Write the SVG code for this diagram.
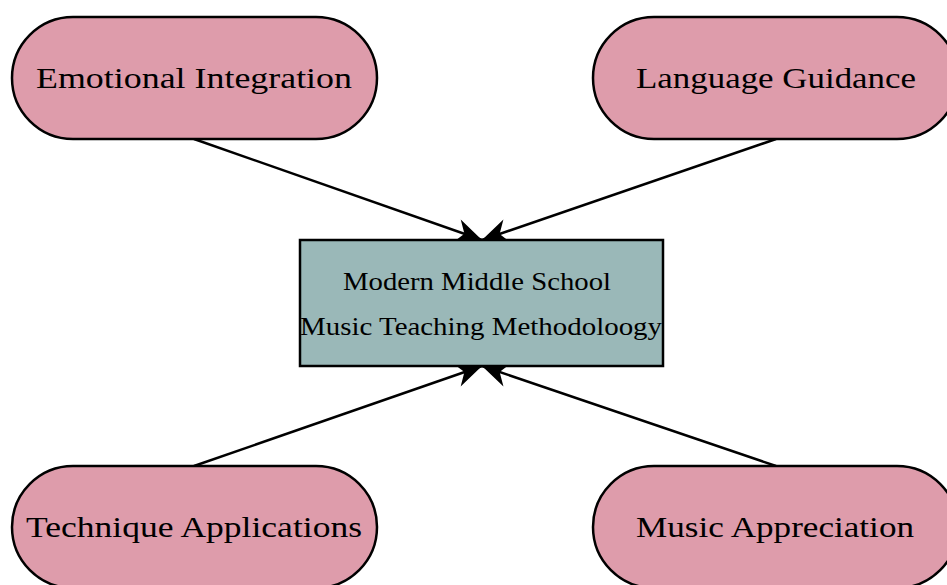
<svg xmlns="http://www.w3.org/2000/svg" width="947" height="585" viewBox="0 0 947 585">
<defs>
<marker id="stealth" markerUnits="userSpaceOnUse" markerWidth="30" markerHeight="30" viewBox="-27 -14 29 28" refX="0" refY="0" orient="auto">
<path d="M0,0 L-26,-12 L-18,0 L-26,12 Z" fill="#000"/>
</marker>
<style>
.pill{fill:#de9cab;stroke:#000;stroke-width:2.5}
.box{fill:#9ab8b8;stroke:#000;stroke-width:2.5}
.lbl{font-family:"Liberation Serif","DejaVu Serif",serif;font-size:30px;fill:#000;text-anchor:middle}
.clbl{font-family:"Liberation Serif","DejaVu Serif",serif;font-size:26px;fill:#000;text-anchor:middle}
.edge{stroke:#000;stroke-width:2.5;fill:none;marker-end:url(#stealth)}
</style>
</defs>
<g id="connectors">
<line class="edge" x1="194" y1="139" x2="482" y2="240"/>
<line class="edge" x1="776" y1="139" x2="482" y2="240"/>
<line class="edge" x1="194" y1="466" x2="482" y2="366"/>
<line class="edge" x1="776" y1="466" x2="482" y2="366"/>
</g>
<g id="center">
<rect class="box" x="300" y="240" width="363" height="126"/>
<text class="clbl" x="477" y="290" textLength="268" lengthAdjust="spacingAndGlyphs">Modern Middle School</text>
<text class="clbl" x="481" y="335" textLength="362" lengthAdjust="spacingAndGlyphs">Music Teaching Methodoloogy</text>
</g>
<g id="emotional">
<rect class="pill" x="12" y="17" width="365" height="122" rx="61" ry="61"/>
<text class="lbl" x="194" y="88" textLength="316" lengthAdjust="spacingAndGlyphs">Emotional Integration</text>
</g>
<g id="language">
<rect class="pill" x="593" y="17" width="365" height="122" rx="61" ry="61"/>
<text class="lbl" x="776" y="88" textLength="280" lengthAdjust="spacingAndGlyphs">Language Guidance</text>
</g>
<g id="technique">
<rect class="pill" x="12" y="466" width="365" height="122" rx="61" ry="61"/>
<text class="lbl" x="194" y="537" textLength="336" lengthAdjust="spacingAndGlyphs">Technique Applications</text>
</g>
<g id="appreciation">
<rect class="pill" x="593" y="466" width="365" height="122" rx="61" ry="61"/>
<text class="lbl" x="775" y="537" textLength="278" lengthAdjust="spacingAndGlyphs">Music Appreciation</text>
</g>
</svg>
